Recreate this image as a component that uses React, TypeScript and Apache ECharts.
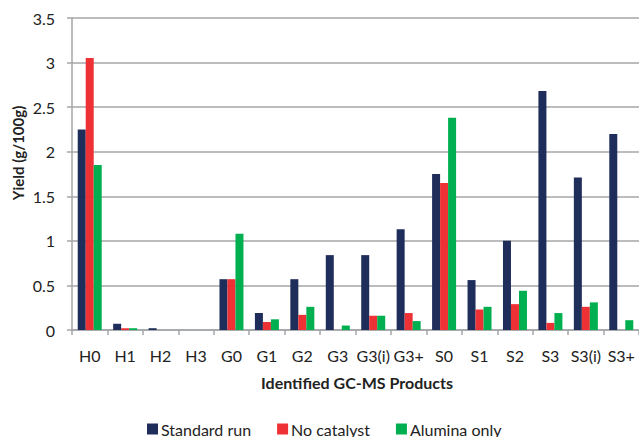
import React, { useEffect, useRef } from "react";
import * as echarts from "echarts";

const categories = ["H0", "H1", "H2", "H3", "G0", "G1", "G2", "G3", "G3(i)", "G3+", "S0", "S1", "S2", "S3", "S3(i)", "S3+"];
const standardRun = [2.25, 0.07, 0.02, 0, 0.57, 0.19, 0.57, 0.84, 0.84, 1.13, 1.75, 0.56, 1.0, 2.68, 1.71, 2.2];
const noCatalyst = [3.05, 0.02, 0, 0, 0.57, 0.09, 0.17, 0, 0.16, 0.19, 1.65, 0.23, 0.29, 0.08, 0.26, 0];
const aluminaOnly = [1.85, 0.02, 0, 0, 1.08, 0.12, 0.26, 0.05, 0.16, 0.1, 2.38, 0.26, 0.44, 0.19, 0.31, 0.11];
const yTicks = { min: 0, max: 3.5, interval: 0.5 };

const FONT = "Lato, 'Open Sans', sans-serif";
const GRID = "#A3A6A9";

export default function App() {
  const ref = useRef<HTMLDivElement>(null);
  useEffect(() => {
    if (!ref.current) return;
    const chart = echarts.init(ref.current, null, { renderer: "svg" });
    const mk = (name: string, data: number[], color: string) => ({
      name,
      type: "bar",
      data,
      barWidth: 8,
      barGap: "0%",
      itemStyle: { color },
    });
    chart.setOption({
      animation: false,
      textStyle: { fontFamily: FONT },
      grid: { left: 72, top: 18, height: 312, width: 570, containLabel: false },
      legend: {
        left: 147,
        top: 421,
        padding: 0,
        icon: "rect",
        itemWidth: 11,
        itemHeight: 11,
        itemGap: 26,
        textStyle: { fontSize: 16, lineHeight: 16, color: "#222", fontFamily: FONT, padding: [0, 0, 0, -2] },
        data: ["Standard run", "No catalyst", "Alumina only"],
      },
      xAxis: {
        type: "category",
        data: categories,
        axisLine: { lineStyle: { color: GRID, width: 1.5 } },
        axisTick: { show: true, length: 5, lineStyle: { color: GRID, width: 1.5 } },
        axisLabel: { fontSize: 16, color: "#222", margin: 17, fontFamily: FONT, interval: 0 },
      },
      yAxis: {
        type: "value",
        min: yTicks.min,
        max: yTicks.max,
        interval: yTicks.interval,
        axisLine: { show: true, lineStyle: { color: GRID, width: 1.5 } },
        axisTick: { show: true, length: 5, lineStyle: { color: GRID, width: 1.5 } },
        splitLine: { lineStyle: { color: GRID, width: 1.5 } },
        axisLabel: { fontSize: 16, color: "#222", margin: 17, fontFamily: FONT },
      },
      graphic: [
        {
          type: "text",
          x: 18,
          y: 153,
          rotation: Math.PI / 2,
          style: {
            text: "Yield (g/100g)",
            fontSize: 15,
            fontWeight: "bold",
            fill: "#222",
            fontFamily: FONT,
            align: "center",
            verticalAlign: "middle",
          },
        },
        {
          type: "text",
          x: 357,
          y: 382,
          style: {
            text: "Identified GC-MS Products",
            fontSize: 16,
            fontWeight: "bold",
            fill: "#222",
            fontFamily: FONT,
            align: "center",
            verticalAlign: "middle",
          },
        },
      ],
      series: [
        mk("Standard run", standardRun, "#1F2D5A"),
        mk("No catalyst", noCatalyst, "#EE3135"),
        mk("Alumina only", aluminaOnly, "#00B050"),
      ],
    });
    return () => chart.dispose();
  }, []);
  return <div ref={ref} style={{ width: 639, height: 437, position: "absolute", left: 0, top: 0 }} />;
}
